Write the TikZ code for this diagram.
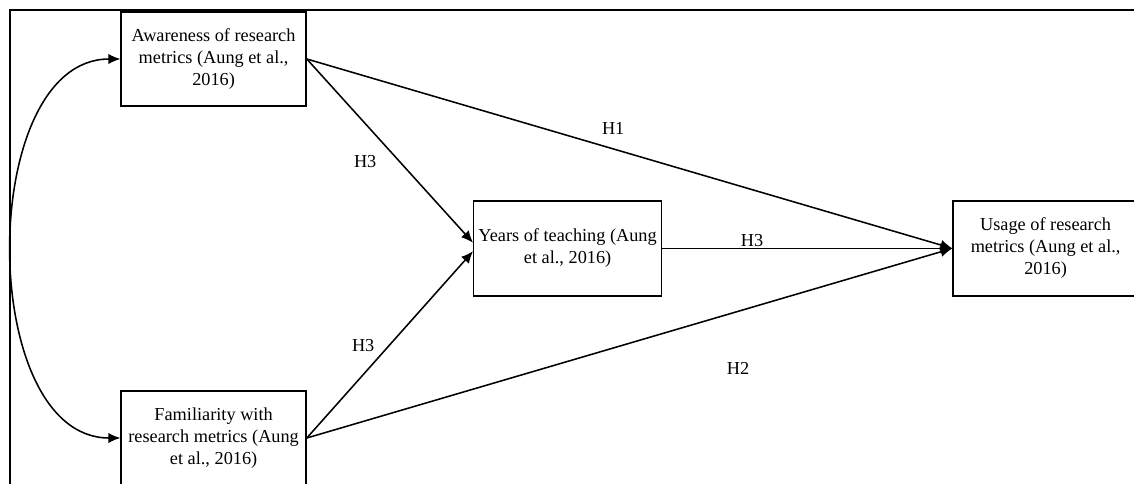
\documentclass[tikz,border=0pt]{standalone}
\usepackage{fontspec}
\setmainfont{Liberation Serif}
\usetikzlibrary{positioning,arrows.meta}

\begin{document}
\begin{tikzpicture}[
	>={Latex[length=3mm,width=2.6mm]},
	box/.style={rectangle, draw, line width=1pt, align=center, minimum width=4.625cm, minimum height=2.35cm, font=\fontsize{13}{15.6}\selectfont},
	link/.style={->, line width=1.1pt},
	hyp/.style={font=\fontsize{13}{15.6}\selectfont}]
	
	\useasboundingbox (0,0) rectangle (28.35,-12.1);
	\draw [line width=1.5pt] (0.26,-12.2) -- (0.26,-0.24) -- (28.5,-0.24);
	
	%Blocks
	\node (awareness) at (5.34,-1.475) [box] {Awareness of research\\metrics (Aung et al.,\\2016)};
	\node (familiarity) at (5.34,-10.95) [box] {Familiarity with\\research metrics (Aung\\et al., 2016)};
	\node (years) at (14.19,-6.21) [box, minimum height=2.375cm] {Years of teaching (Aung\\et al., 2016)};
	\node (usage) at (26.14,-6.21) [box, minimum height=2.375cm] {Usage of research\\metrics (Aung et al.,\\2016)};
	
	%Labels
	\node (hOne) at (15.33,-3.22) [hyp] {H1};
	\node (hThreeUp) at (9.13,-4.05) [hyp] {H3};
	\node (hThreeLow) at (9.08,-8.65) [hyp] {H3};
	\node (hThreeMid) at (18.8,-6.02) [hyp] {H3};
	\node (hTwo) at (18.45,-9.2) [hyp] {H2};
	
	%Links
	\draw [link] (awareness.east) -- (usage.west);
	\draw [link] (awareness.east) -- ([yshift=4pt]years.west);
	\draw [link] (familiarity.east) -- ([yshift=-2pt]years.west);
	\draw [link] (familiarity.east) -- (usage.west);
	\draw [link] (years.east) -- (usage.west);
	\draw [link, <->] (awareness.west) .. controls +(-3.6,0) and +(-3.6,0) .. (familiarity.west);
	
\end{tikzpicture}
\end{document}
